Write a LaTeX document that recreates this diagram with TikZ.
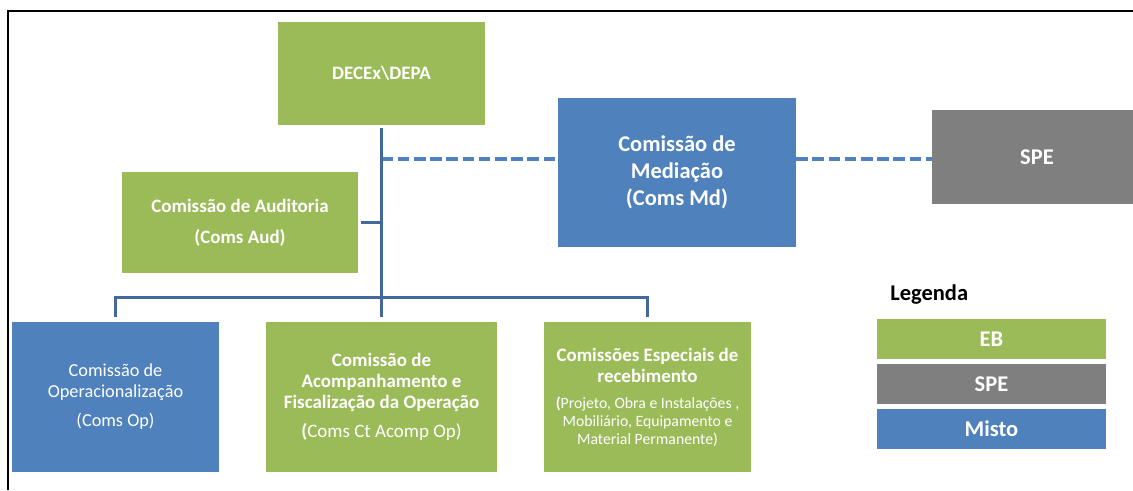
\documentclass[tikz,border=0pt]{standalone}
\usepackage{fontspec}
\setmainfont{Carlito}

\definecolor{ebgreen}{HTML}{9BBB59}
\definecolor{spegray}{HTML}{7F7F7F}
\definecolor{mistoblue}{HTML}{4F81BD}
\definecolor{linkblue}{HTML}{41699E}

\tikzset{
  box/.style={rectangle, inner sep=0pt, text=white, align=center,
    font=\fontsize{13.5}{15}\selectfont\bfseries},
  ebbox/.style={box, fill=ebgreen},
  spebox/.style={box, fill=spegray},
  mistobox/.style={box, fill=mistoblue},
  link/.style={draw=linkblue, line width=0.75mm},
  medlink/.style={draw=mistoblue, line width=1mm, dash pattern=on 2.9mm off 1.15mm},
  bigtext/.style={font=\fontsize{16}{19}\selectfont\bfseries},
}

\begin{document}
\begin{tikzpicture}[x=0.25mm,y=-0.25mm]
\useasboundingbox (0,0) rectangle (1133,490);

% Frame
\draw[line width=0.5mm] (1133,11) -- (8,11) -- (8,490);

% Top of the chart
\node[ebbox, minimum width=51.75mm, minimum height=25.75mm] (dec) at (381.5,73.5) {DECEx\textbackslash DEPA};
\node[mistobox, bigtext, minimum width=59.5mm, minimum height=37.25mm] (med) at (677,172.5) {Comissão de\\Mediação\\(Coms Md)};
\node[spebox, bigtext, minimum width=52.5mm, minimum height=23.5mm] (spe) at (1037,157) {SPE};
\node[ebbox, minimum width=59mm, minimum height=25.25mm] (aud) at (240,222.5) {Comissão de Auditoria\\[6.8pt](Coms Aud)};

% Bottom row
\node[mistobox, font=\fontsize{13}{14.7}\selectfont, minimum width=51.75mm, minimum height=37.5mm] (opr) at (115.5,397) {Comissão de\\Operacionalização\\[6pt](Coms Op)};
\node[ebbox, minimum width=57.75mm, minimum height=37.5mm] (acp) at (381.5,397) {Comissão de\\Acompanhamento e\\Fiscalização da Operação\\[5.5pt](\textmd{Coms Ct Acomp Op)}};
\node[ebbox, minimum width=51.75mm, minimum height=37.5mm] (esp) at (647.5,397) {Comissões Especiais de\\recebimento\\[4pt]\fontsize{11.2}{12.5}\selectfont(\textmd{Projeto, Obra e Instalações ,}\\[-2.5pt]\fontsize{11.2}{12.5}\selectfont\mdseries Mobiliário, Equipamento e\\[-2.5pt]\fontsize{11.2}{12.5}\selectfont\mdseries Material Permanente)};

% Joints on the main line
\coordinate (medjoin) at (381.5,159);
\coordinate (audjoin) at (381.5,222.5);
\coordinate (hub) at (381.5,297.5);

% Dashed links
\draw[medlink] (medjoin) -- (medjoin -| med.west);
\draw[medlink] (medjoin -| med.east) -- (medjoin -| spe.west);

% Solid links
\draw[link, shorten <=0.75mm] (dec) -- (hub);
\draw[link, shorten <=0.75mm] (aud.east) -- (audjoin);
\draw[link, shorten >=1.2mm] (hub) -| (opr.north);
\draw[link, shorten >=1.2mm] (hub) -| (esp.north);
\draw[link, shorten >=1.2mm] (hub) -- (acp.north);

% Legend
\node[anchor=base west, inner sep=0pt, bigtext] (legtitle) at (890,300) {Legenda};
\node[ebbox, bigtext, minimum width=57.25mm, minimum height=10mm] (legeb) at (991.5,339) {EB};
\node[spebox, bigtext, minimum width=57.25mm, minimum height=10mm] (legspe) at (991.5,384) {SPE};
\node[mistobox, bigtext, minimum width=57.25mm, minimum height=10mm] (legmisto) at (991.5,429) {Misto};

\end{tikzpicture}
\end{document}
